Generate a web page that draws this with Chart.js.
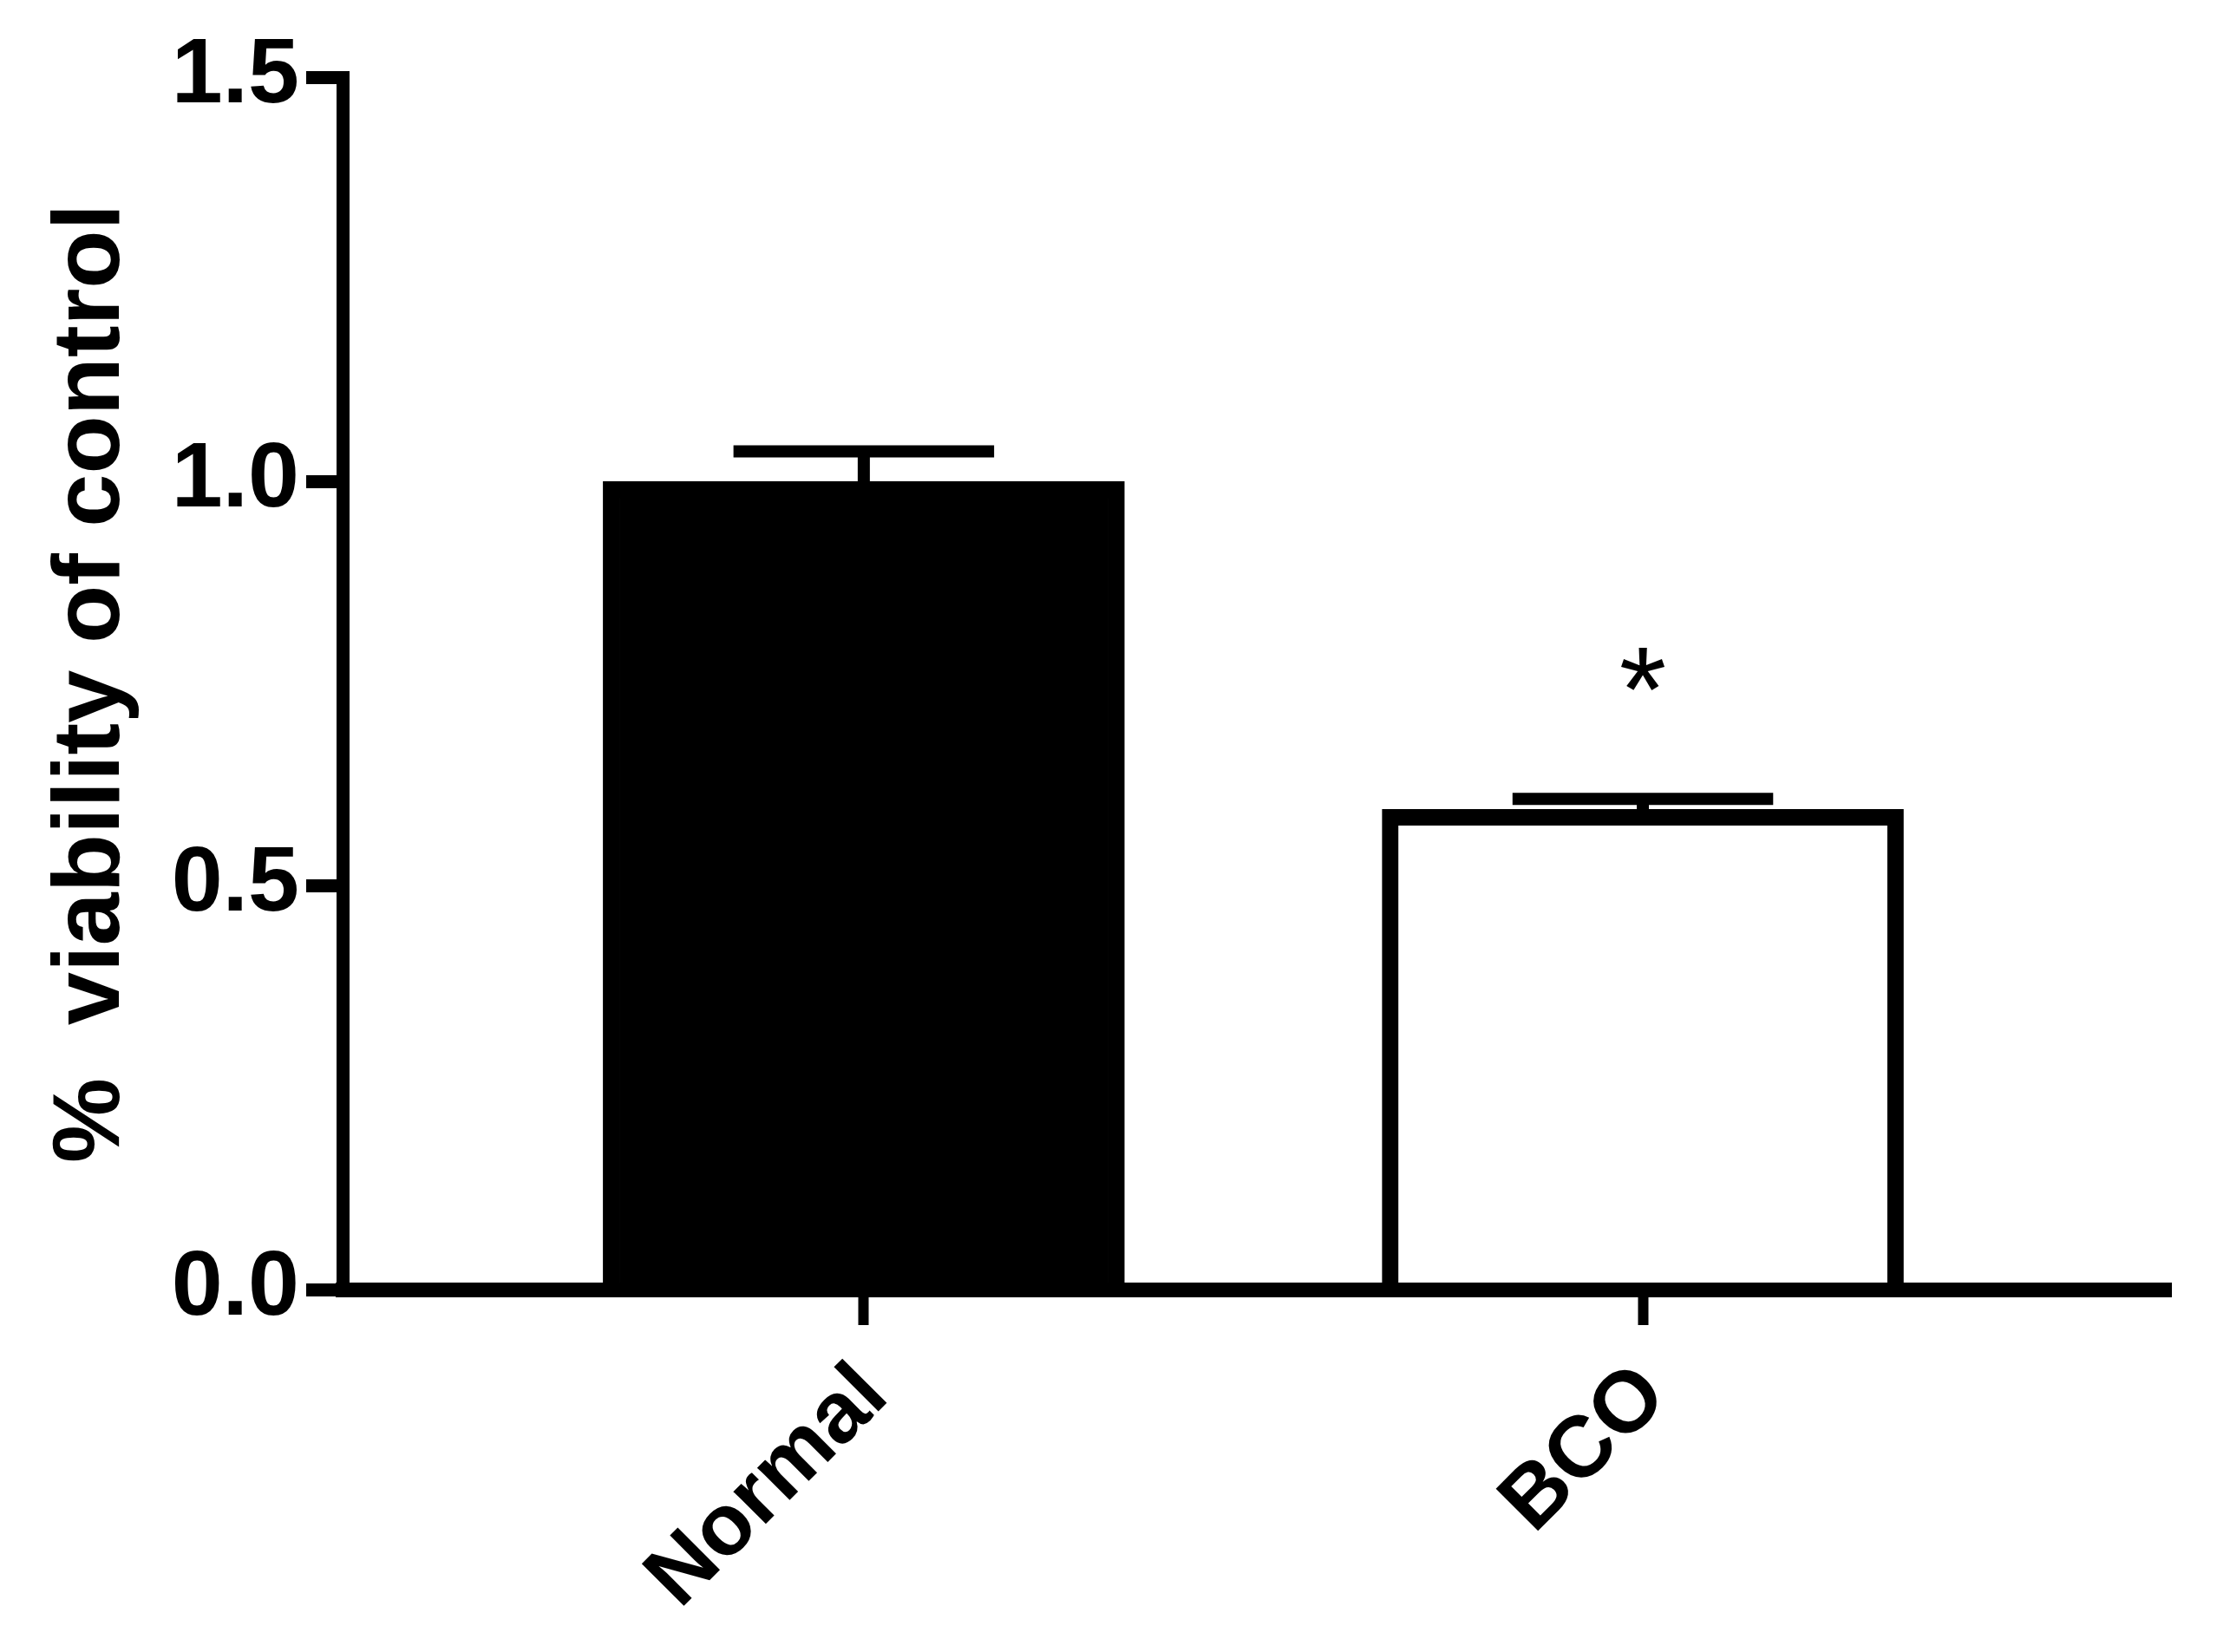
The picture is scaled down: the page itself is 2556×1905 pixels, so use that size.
<!DOCTYPE html>
<html lang="en">
<head>
  <meta charset="UTF-8" />
  <title>% viability of control</title>
  <script src="https://cdn.jsdelivr.net/npm/chart.js"></script>
  <style>
    html, body { margin: 0; padding: 0; background: #fff; }
    canvas { display: block; }
  </style>
</head>
<body>
  <canvas id="chart" width="2556" height="1905"></canvas>

  <script>
    const categories = ['Normal', 'BCO'];
    const meanValues = [1.0, 0.594];
    const semValues = [0.037, 0.013];
    const sigMarks = ['', '*'];
    const yTickValues = [0, 0.5, 1.0, 1.5];
    const barFills = ['#000000', '#ffffff'];

    const FONT = '"Liberation Sans", Arial, sans-serif';

    // SEM bars + significance marks, drawn on top of the bars
    const errorBars = {
      id: 'errorBars',
      afterDatasetsDraw(chart) {
        const ctx = chart.ctx;
        const y = chart.scales.y;
        const meta = chart.getDatasetMeta(0);
        ctx.save();
        ctx.strokeStyle = '#000';
        ctx.fillStyle = '#000';
        ctx.lineWidth = 14;
        meta.data.forEach((bar, i) => {
          const top = y.getPixelForValue(meanValues[i] + semValues[i]);
          const half = bar.width / 4;
          ctx.beginPath();
          ctx.moveTo(bar.x, bar.y);
          ctx.lineTo(bar.x, top);
          ctx.moveTo(bar.x - half, top);
          ctx.lineTo(bar.x + half, top);
          ctx.stroke();
          if (sigMarks[i]) {
            ctx.font = `140px ${FONT}`;
            ctx.textAlign = 'center';
            ctx.textBaseline = 'alphabetic';
            const m = ctx.measureText(sigMarks[i]);
            const cy = top - 150;
            ctx.fillText(sigMarks[i], bar.x, cy + (m.actualBoundingBoxAscent - m.actualBoundingBoxDescent) / 2);
          }
        });
        ctx.restore();
      }
    };

    const ctx = document.getElementById('chart').getContext('2d');
    new Chart(ctx, {
      type: 'bar',
      data: {
        datasets: [{
          data: categories.map((c, i) => ({ x: i + 1, y: meanValues[i] })),
          backgroundColor: barFills,
          borderColor: '#000',
          borderWidth: 19,
          barThickness: 601
        }]
      },
      options: {
        responsive: false,
        animation: false,
        layout: { padding: { left: 0, right: 53, top: 89, bottom: 0 } },
        plugins: { legend: { display: false }, tooltip: { enabled: false } },
        scales: {
          x: {
            type: 'linear',
            offset: false,
            min: 0.331,
            max: 2.678,
            afterFit: (s) => { s.height = 418; },
            afterBuildTicks: (s) => { s.ticks = categories.map((c, i) => ({ value: i + 1 })); },
            border: { display: true, color: '#000', width: 17, z: 1 },
            grid: { offset: false, drawOnChartArea: false, drawTicks: true, tickLength: 41, tickWidth: 12, tickColor: '#000', z: 1 },
            ticks: {
              autoSkip: false,
              minRotation: 45,
              maxRotation: 45,
              padding: 23,
              labelOffset: 12,
              color: '#000',
              font: { family: FONT, size: 100, weight: 'bold' },
              callback: (v, i) => categories[i]
            }
          },
          y: {
            min: 0,
            max: 1.5,
            afterFit: (s) => { s.width = 395; },
            afterBuildTicks: (s) => { s.ticks = yTickValues.map(v => ({ value: v })); },
            border: { display: true, color: '#000', width: 15, z: 1 },
            grid: { drawOnChartArea: false, drawTicks: true, tickLength: 42, tickWidth: 15, tickColor: '#000', z: 1 },
            ticks: {
              padding: 8,
              color: '#000',
              font: { family: FONT, size: 106, weight: 'bold' },
              callback: (v) => Number(v).toFixed(1)
            },
            title: {
              display: true,
              text: '%  viability of control',
              color: '#000',
              padding: { top: 41, bottom: 0 },
              font: { family: FONT, size: 110, weight: 'bold' }
            }
          }
        }
      },
      plugins: [errorBars]
    });
  </script>
</body>
</html>
